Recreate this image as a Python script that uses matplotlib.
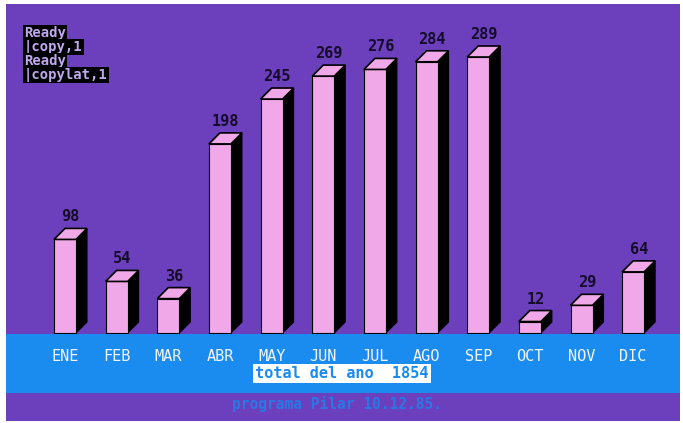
import matplotlib
matplotlib.use("Agg")
import matplotlib.pyplot as plt
from matplotlib.patches import Polygon, Rectangle

months = ["ENE", "FEB", "MAR", "ABR", "MAY", "JUN", "JUL", "AGO", "SEP", "OCT", "NOV", "DIC"]
values = [98, 54, 36, 198, 245, 269, 276, 284, 289, 12, 29, 64]
total_label = "total del ano  1854"
footer = "programa Pilar 10.12.85."
console_lines = ["Ready", "|copy,1", "Ready", "|copylat,1"]

W, H = 683, 423
PURPLE = "#6c40bc"
BLUE = "#1a8cf0"
PINK = "#f0a8e8"
DARK = "#150c2a"

# pixel geometry helpers
x0_px, step_px = 54, 51.65
base_px, sy = 333, 0.955

fig = plt.figure(figsize=(W / 100, H / 100), dpi=100, facecolor="white")
ax = fig.add_axes([0, 0, 1, 1])
ax.set_xlim((0 - x0_px) / step_px, (W - x0_px) / step_px)
ax.set_ylim((base_px - H) / sy, base_px / sy)
ax.axis("off")

def px2x(px):
    return (px - x0_px) / step_px

def py2v(py):
    return (base_px - py) / sy

# background frame (purple) and blue band
ax.add_patch(Rectangle((px2x(6), py2v(421)), (680 - 6) / step_px, (421 - 4) / sy,
                       facecolor=PURPLE, edgecolor="none", zorder=0))
ax.add_patch(Rectangle((px2x(6), py2v(393)), (680 - 6) / step_px, (393 - 334) / sy,
                       facecolor=BLUE, edgecolor="none", zorder=3))

w = 22 / step_px
d = 11 / step_px
h = 11 / sy

for i, (m, v) in enumerate(zip(months, values)):
    x = i
    # side face
    ax.add_patch(Polygon([(x + w, v), (x + w + d, v + h), (x + w + d, h), (x + w, 0)],
                         closed=True, facecolor="black", edgecolor="black", lw=0.8, zorder=2))
    # front face
    ax.add_patch(Polygon([(x, 0), (x, v), (x + w, v), (x + w, 0)],
                         closed=True, facecolor=PINK, edgecolor="black", lw=0.8, zorder=2))
    # top face
    ax.add_patch(Polygon([(x, v), (x + w, v), (x + w + d, v + h), (x + d, v + h)],
                         closed=True, facecolor=PINK, edgecolor="black", lw=1.2, zorder=2.5))
    ax.text(x + (w + d) / 2, v + h + 7 / sy, str(v), ha="center", va="baseline",
            fontsize=11, fontweight="bold", family="DejaVu Sans Mono", color=DARK, zorder=4)
    ax.text(x + w / 2, py2v(356), m, ha="center", va="center",
            fontsize=11, family="DejaVu Sans Mono", color="#f2f4ff", zorder=4)

ax.text(px2x(342), py2v(373.5), total_label, ha="center", va="center",
        fontsize=11, fontweight="bold", family="DejaVu Sans Mono", color=BLUE, zorder=4,
        bbox=dict(boxstyle="square,pad=0.12", facecolor="white", edgecolor="none"))

ax.text(px2x(337), py2v(404), footer, ha="center", va="center",
        fontsize=10.5, fontweight="bold", family="DejaVu Sans Mono", color="#2a78e6", zorder=4)

for k, line in enumerate(console_lines):
    ax.text(px2x(24), py2v(33 + 14 * k), line, ha="left", va="center",
            fontsize=10, fontweight="bold", family="DejaVu Sans Mono", color="#c0a8f0", zorder=4,
            bbox=dict(boxstyle="square,pad=0.08", facecolor="black", edgecolor="none"))

fig.savefig("out.png", dpi=100, facecolor="white")
